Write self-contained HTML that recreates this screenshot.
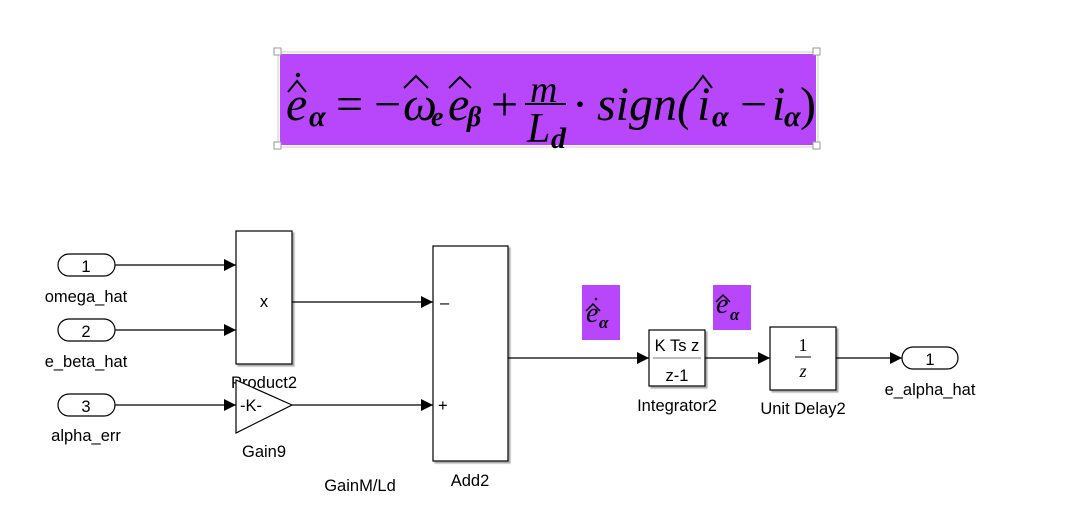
<!DOCTYPE html>
<html><head><meta charset="utf-8"><style>
html,body{margin:0;padding:0;background:#fff;}
svg{display:block;}
.t{font-family:"Liberation Sans",sans-serif;font-size:16.5px;fill:#000;}
.m{font-family:"Liberation Serif",serif;font-style:italic;fill:#000;}
.n{font-family:"Liberation Serif",serif;fill:#000;}
</style></head><body>
<svg width="1081" height="518" viewBox="0 0 1081 518" xmlns="http://www.w3.org/2000/svg">
<defs>
<marker id="a" markerWidth="12" markerHeight="12" refX="12" refY="6" orient="auto" markerUnits="userSpaceOnUse"><path d="M0,0 L12,6 L0,12 z" fill="#000"/></marker>
<filter id="sh"><feDropShadow dx="2" dy="2" stdDeviation="0.6" flood-color="#888" flood-opacity="0.7"/></filter>
</defs>
<!-- equation -->
<rect x="278" y="52" width="540" height="95" fill="none" stroke="#ccc" stroke-width="1"/>
<rect x="280" y="54" width="536" height="91" fill="#b846fb"/>
<g fill="#fff" stroke="#999"><rect x="274" y="48" width="7" height="7"/><rect x="813" y="48" width="7" height="7"/><rect x="274" y="142" width="7" height="7"/><rect x="813" y="142" width="7" height="7"/></g>
<g class="m" font-size="48">
<text x="286" y="120">e</text>
<text x="309" y="126" font-size="30" font-weight="bold">α</text>
<text class="n" x="336" y="120" font-style="normal">=</text>
<text class="n" x="374" y="120" font-style="normal">−</text>
<text x="403" y="120">ω</text>
<text x="431" y="126" font-size="28" font-weight="bold">e</text>
<text x="448" y="120">e</text>
<text x="467" y="126" font-size="28" font-weight="bold">β</text>
<text class="n" x="491" y="120" font-style="normal">+</text>
<text x="530" y="102" font-size="38">m</text>
<text x="527" y="142" font-size="42">L</text><text x="551" y="148" font-size="30" font-weight="bold">d</text>
<text class="n" x="572" y="120" font-style="normal">·</text>
<text x="597" y="120" textLength="96" lengthAdjust="spacingAndGlyphs">sign(</text>
<text x="697" y="120">i</text>
<text x="712" y="126" font-size="30" font-weight="bold">α</text>
<text class="n" x="740" y="120" font-style="normal">−</text>
<text x="772" y="120">i</text>
<text x="784" y="126" font-size="30" font-weight="bold">α</text>
<text class="n" x="800" y="120" font-style="normal" font-size="48">)</text>
</g>
<line x1="525" y1="104" x2="566" y2="104" stroke="#000" stroke-width="2"/>
<g fill="none" stroke="#000" stroke-width="2">
<polyline points="288,92 297,81 306,92"/>
<polyline points="404,88 416,76 428,88"/>
<polyline points="449,88 460,77 471,88"/>
<polyline points="694,88 703,76 712,88"/>
</g>
<circle cx="298" cy="75" r="2.2" fill="#000"/>
<!-- inports -->
<g fill="#fff" stroke="#000" stroke-width="1.2">
<rect x="58" y="254" width="57" height="22" rx="11"/>
<rect x="58" y="319" width="57" height="22" rx="11"/>
<rect x="58" y="394" width="57" height="22" rx="11"/>
<rect x="902" y="347" width="56" height="22" rx="11"/>
</g>
<g class="t" text-anchor="middle">
<text x="86" y="272">1</text><text x="86" y="337">2</text><text x="86" y="412">3</text><text x="930" y="365">1</text>
<text x="86" y="302">omega_hat</text><text x="86" y="367">e_beta_hat</text><text x="86" y="441">alpha_err</text>
<text x="930" y="395">e_alpha_hat</text>
<text x="264" y="388">Product2</text><text x="264" y="457">Gain9</text>
<text x="360" y="491">GainM/Ld</text><text x="470" y="486">Add2</text>
<text x="677" y="411">Integrator2</text><text x="803" y="414">Unit Delay2</text>
</g>
<!-- blocks -->
<g fill="#fff" stroke="#000" stroke-width="1.2" filter="url(#sh)">
<rect x="236" y="231" width="56" height="133"/>
<rect x="433" y="246" width="75" height="215"/>
<rect x="649" y="330" width="56" height="56"/>
<rect x="770" y="327" width="66" height="63"/>
</g>
<polygon points="236,380 292,405 236,433" fill="#fff" stroke="#000" stroke-width="1.2"/>
<text class="t" x="264" y="307" text-anchor="middle">x</text>
<text class="t" x="240" y="411">-K-</text>
<text x="440" y="308" class="t">–</text><text x="438" y="411" class="t">+</text>
<text class="t" x="677" y="351" text-anchor="middle">K Ts z</text>
<line x1="653" y1="358" x2="701" y2="358" stroke="#777" stroke-width="1"/>
<text class="t" x="677" y="381" text-anchor="middle">z-1</text>
<text class="n" x="803" y="351" font-size="18" text-anchor="middle">1</text>
<line x1="795" y1="357" x2="811" y2="357" stroke="#000" stroke-width="1"/>
<text class="m" x="803" y="377" font-size="18" text-anchor="middle">z</text>
<!-- wires -->
<g stroke="#000" stroke-width="1.2" fill="none">
<line x1="115" y1="265" x2="236" y2="265" marker-end="url(#a)"/>
<line x1="115" y1="330" x2="236" y2="330" marker-end="url(#a)"/>
<line x1="115" y1="405" x2="236" y2="405" marker-end="url(#a)"/>
<line x1="292" y1="302" x2="433" y2="302" marker-end="url(#a)"/>
<line x1="292" y1="405" x2="433" y2="405" marker-end="url(#a)"/>
<line x1="508" y1="358" x2="649" y2="358" marker-end="url(#a)"/>
<line x1="705" y1="358" x2="770" y2="358" marker-end="url(#a)"/>
<line x1="836" y1="358" x2="902" y2="358" marker-end="url(#a)"/>
</g>
<!-- labels -->
<rect x="582" y="285" width="38" height="55" fill="#b846fb"/>
<text class="m" x="586" y="322" font-size="28">e</text>
<polyline points="586,311 593,304 600,311" fill="none" stroke="#000" stroke-width="1.5"/>
<circle cx="596" cy="299" r="1.3" fill="#000"/>
<text class="m" x="599" y="328" font-size="17" font-weight="bold">α</text>
<rect x="713" y="285" width="38" height="45" fill="#b846fb"/>
<text class="m" x="716" y="313" font-size="28">e</text>
<polyline points="716,302 723,295 730,302" fill="none" stroke="#000" stroke-width="1.5"/>
<text class="m" x="730" y="320" font-size="17" font-weight="bold">α</text>
</svg>
</body></html>
